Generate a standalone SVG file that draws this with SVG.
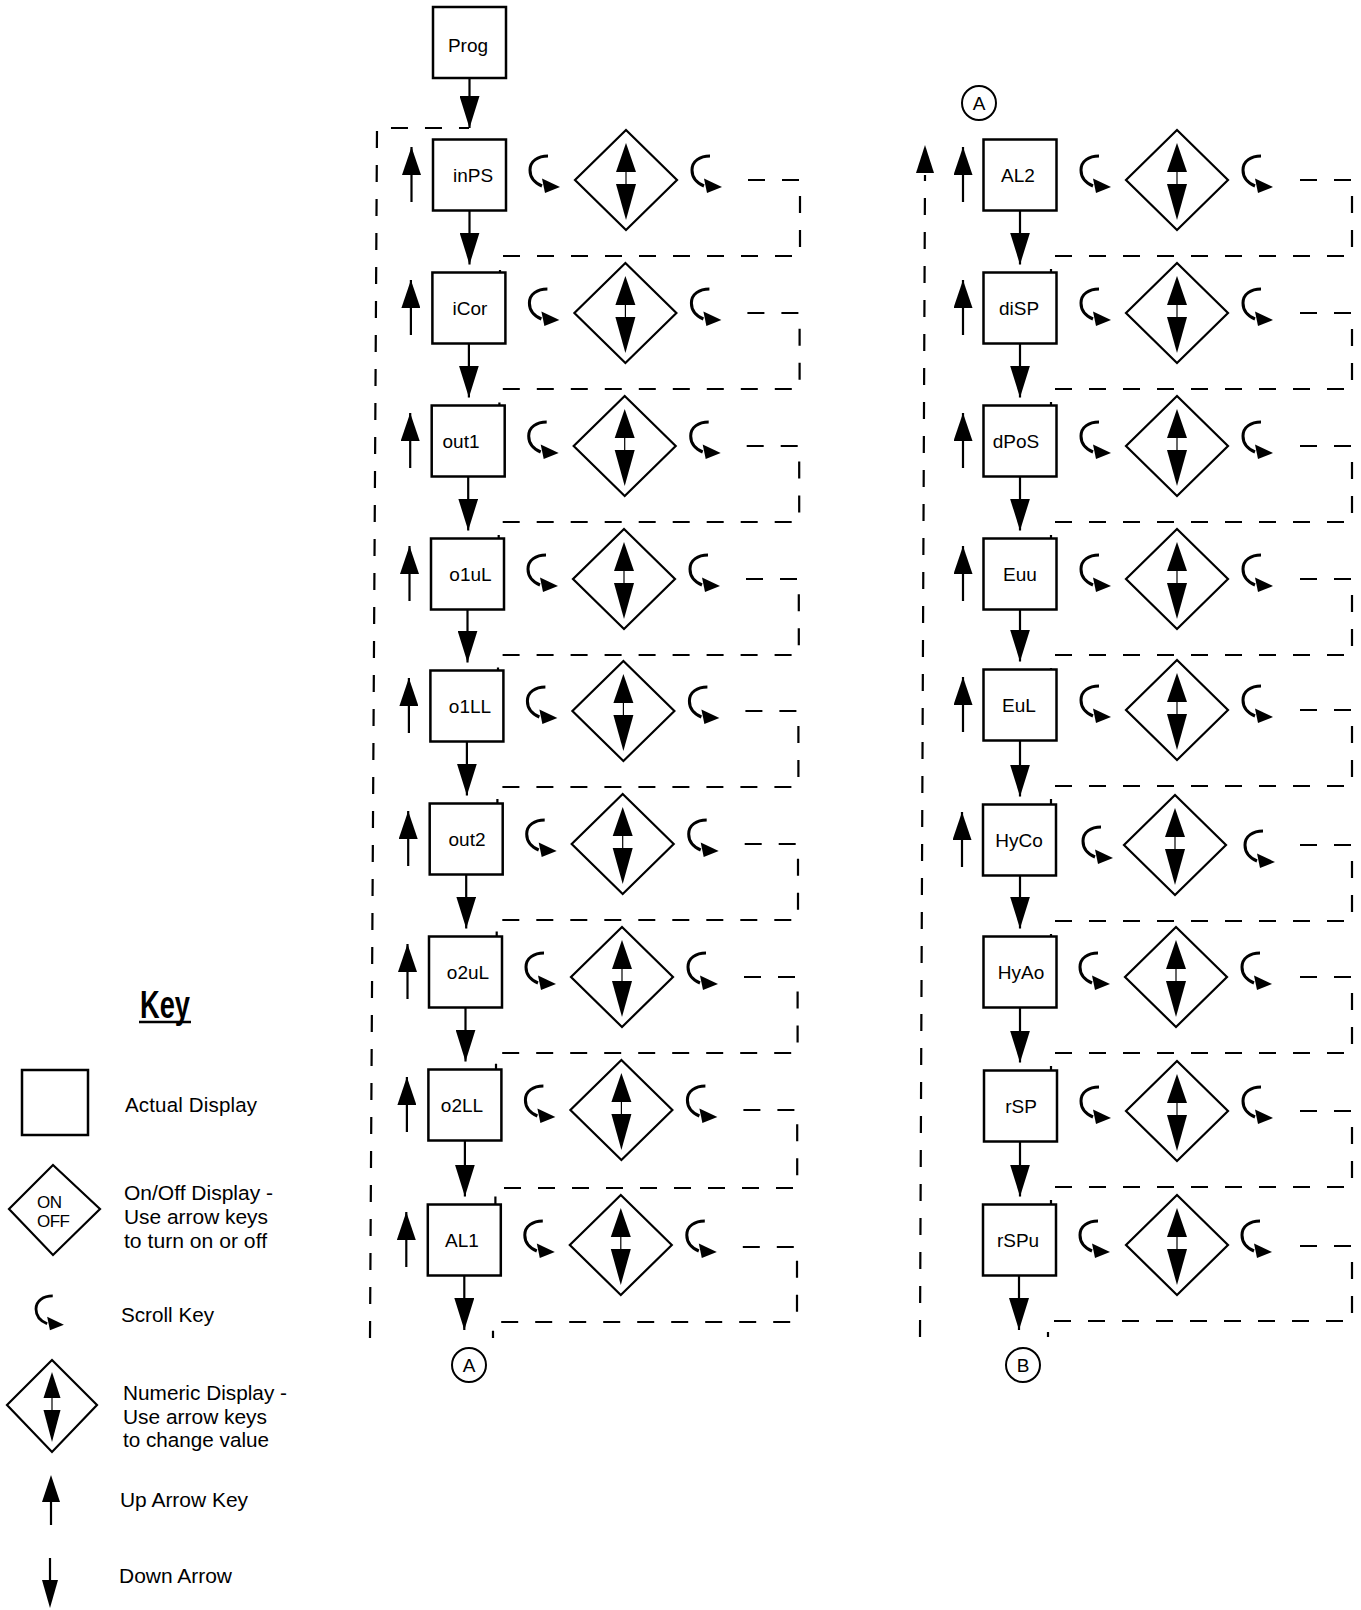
<svg xmlns="http://www.w3.org/2000/svg" xmlns:xlink="http://www.w3.org/1999/xlink" width="1361" height="1610" viewBox="0 0 1361 1610">
<style>
.box{fill:#fff;stroke:#000;stroke-width:2.5}
.lbl{font-family:"Liberation Sans",Arial,Helvetica,sans-serif;font-size:19px;text-anchor:middle;fill:#000}
.key{font-family:"Liberation Sans",Arial,Helvetica,sans-serif;font-size:20.5px;fill:#000}
.dash{fill:none;stroke:#000;stroke-width:2.2;stroke-dasharray:17 17}
.ln{fill:none;stroke:#000;stroke-width:2.2}
.up{fill:none;stroke:#000;stroke-width:2.2;marker-end:url(#hu)}
.dn{fill:none;stroke:#000;stroke-width:2.2;marker-end:url(#hd)}
.circ{fill:#fff;stroke:#000;stroke-width:2}
</style>
<defs>
<marker id="hu" viewBox="0 0 28 19" markerWidth="28" markerHeight="19" refX="28" refY="9.5" orient="auto" markerUnits="userSpaceOnUse"><path d="M0,0 L28,9.5 L0,19 Z" fill="#000"/></marker>
<marker id="hd" viewBox="0 0 32 20" markerWidth="32" markerHeight="20" refX="32" refY="10" orient="auto" markerUnits="userSpaceOnUse"><path d="M0,0 L32,10 L0,20 Z" fill="#000"/></marker>
<g id="scroll"><path d="M18,1 C8,1 0,6 0,15 C0,23 5,28 12,31" fill="none" stroke="#000" stroke-width="3"/><polygon points="12,23.5 15,38 30,32" fill="#000"/></g>
<g id="num"><polygon points="0,-50 51,0 0,50 -51,0" fill="#fff" stroke="#000" stroke-width="2.2"/><polygon points="0,-37 10,-8 -10,-8" fill="#000"/><polygon points="-10,4 10,4 0,40" fill="#000"/><line x1="0" y1="-8" x2="0" y2="4" stroke="#000" stroke-width="1.2"/></g>
</defs>
<rect width="1361" height="1610" fill="#fff"/>

<g id="connectors">
<line class="dn" x1="469.5" y1="78" x2="469.5" y2="128"/>
<path class="dash" d="M370,1338 L377,128 H469"/>
<line class="dn" x1="469.5" y1="210.5" x2="469.5" y2="264.5"/>
<line class="dn" x1="468.9" y1="343.5" x2="468.9" y2="397.5"/>
<line class="dn" x1="468.2" y1="476.5" x2="468.2" y2="530.5"/>
<line class="dn" x1="467.5" y1="609.5" x2="467.5" y2="662.5"/>
<line class="dn" x1="466.9" y1="741.5" x2="466.9" y2="795.5"/>
<line class="dn" x1="466.2" y1="874.5" x2="466.2" y2="928.5"/>
<line class="dn" x1="465.5" y1="1007.5" x2="465.5" y2="1061.5"/>
<line class="dn" x1="464.9" y1="1140.5" x2="464.9" y2="1196.5"/>
<line class="dn" x1="464.3" y1="1275.5" x2="464.3" y2="1330"/>
<path class="dash" d="M748,180 H800 V256 H500 V272.5"/>
<path class="dash" d="M747.4,313 H799.6 V389 H499.4 V405.5"/>
<path class="dash" d="M746.7,446 H799.2 V522 H498.7 V538.5"/>
<path class="dash" d="M746,579 H798.8 V655 H498 V670.5"/>
<path class="dash" d="M745.4,711 H798.4 V787 H497.4 V803.5"/>
<path class="dash" d="M744.7,844 H798 V920 H496.7 V936.5"/>
<path class="dash" d="M744,977 H797.6 V1053 H496 V1069.5"/>
<path class="dash" d="M743.4,1110 H797.2 V1188 H495.4 V1204.5"/>
<path class="dash" d="M742.8,1247 H797 V1322 H493 V1338"/>
<path class="dash" d="M920,1337 L925,175"/>
<polygon points="916,173 934,173 925,145" fill="#000"/>
<line class="dn" x1="1020" y1="210.5" x2="1020" y2="264.5"/>
<line class="dn" x1="1020" y1="343.5" x2="1020" y2="397.5"/>
<line class="dn" x1="1020" y1="476.5" x2="1020" y2="530.5"/>
<line class="dn" x1="1020" y1="609.5" x2="1020" y2="661.5"/>
<line class="dn" x1="1020" y1="740.5" x2="1020" y2="796.5"/>
<line class="dn" x1="1020" y1="875.5" x2="1020" y2="928.5"/>
<line class="dn" x1="1020" y1="1007.5" x2="1020" y2="1062.5"/>
<line class="dn" x1="1020" y1="1141.5" x2="1020" y2="1196.5"/>
<line class="dn" x1="1019" y1="1275.5" x2="1019" y2="1330"/>
<path class="dash" d="M1300,180 H1352 V256 H1051 V272.5"/>
<path class="dash" d="M1300,313 H1352 V389 H1051 V405.5"/>
<path class="dash" d="M1300,446 H1352 V522 H1051 V538.5"/>
<path class="dash" d="M1300,579 H1352 V655 H1051 V669.5"/>
<path class="dash" d="M1300,710 H1352 V786 H1051 V804.5"/>
<path class="dash" d="M1300,845 H1352 V921 H1051 V936.5"/>
<path class="dash" d="M1300,977 H1352 V1053 H1051 V1070.5"/>
<path class="dash" d="M1300,1111 H1352 V1187 H1051 V1204.5"/>
<path class="dash" d="M1300,1246 H1352 V1321 H1048 V1337"/>
</g>

<g id="node-Prog"><rect class="box" x="433" y="7" width="73" height="71"/><text class="lbl" x="468" y="52">Prog</text></g>

<g id="row-inPS"><rect class="box" x="433" y="139.5" width="73" height="71"/><text class="lbl" x="473" y="182">inPS</text><line class="up" x1="411.5" y1="202" x2="411.5" y2="147"/><use xlink:href="#scroll" x="530" y="155"/><use xlink:href="#num" x="626" y="180"/><use xlink:href="#scroll" x="692" y="155"/></g>
<g id="row-iCor"><rect class="box" x="432.4" y="272.5" width="73" height="71"/><text class="lbl" x="470" y="315">iCor</text><line class="up" x1="410.9" y1="335" x2="410.9" y2="280"/><use xlink:href="#scroll" x="529.4" y="288"/><use xlink:href="#num" x="625.4" y="313"/><use xlink:href="#scroll" x="691.4" y="288"/></g>
<g id="row-out1"><rect class="box" x="431.7" y="405.5" width="73" height="71"/><text class="lbl" x="461" y="448">out1</text><line class="up" x1="410.2" y1="468" x2="410.2" y2="413"/><use xlink:href="#scroll" x="528.7" y="421"/><use xlink:href="#num" x="624.7" y="446"/><use xlink:href="#scroll" x="690.7" y="421"/></g>
<g id="row-o1uL"><rect class="box" x="431" y="538.5" width="73" height="71"/><text class="lbl" x="470.5" y="581">o1uL</text><line class="up" x1="409.5" y1="601" x2="409.5" y2="546"/><use xlink:href="#scroll" x="528" y="554"/><use xlink:href="#num" x="624" y="579"/><use xlink:href="#scroll" x="690" y="554"/></g>
<g id="row-o1LL"><rect class="box" x="430.4" y="670.5" width="73" height="71"/><text class="lbl" x="470" y="713">o1LL</text><line class="up" x1="408.9" y1="733" x2="408.9" y2="678"/><use xlink:href="#scroll" x="527.4" y="686"/><use xlink:href="#num" x="623.4" y="711"/><use xlink:href="#scroll" x="689.4" y="686"/></g>
<g id="row-out2"><rect class="box" x="429.7" y="803.5" width="73" height="71"/><text class="lbl" x="467" y="846">out2</text><line class="up" x1="408.2" y1="866" x2="408.2" y2="811"/><use xlink:href="#scroll" x="526.7" y="819"/><use xlink:href="#num" x="622.7" y="844"/><use xlink:href="#scroll" x="688.7" y="819"/></g>
<g id="row-o2uL"><rect class="box" x="429" y="936.5" width="73" height="71"/><text class="lbl" x="468" y="979">o2uL</text><line class="up" x1="407.5" y1="999" x2="407.5" y2="944"/><use xlink:href="#scroll" x="526" y="952"/><use xlink:href="#num" x="622" y="977"/><use xlink:href="#scroll" x="688" y="952"/></g>
<g id="row-o2LL"><rect class="box" x="428.4" y="1069.5" width="73" height="71"/><text class="lbl" x="462" y="1112">o2LL</text><line class="up" x1="406.9" y1="1132" x2="406.9" y2="1077"/><use xlink:href="#scroll" x="525.4" y="1085"/><use xlink:href="#num" x="621.4" y="1110"/><use xlink:href="#scroll" x="687.4" y="1085"/></g>
<g id="row-AL1"><rect class="box" x="427.8" y="1204.5" width="73" height="71"/><text class="lbl" x="462" y="1247">AL1</text><line class="up" x1="406.3" y1="1267" x2="406.3" y2="1212"/><use xlink:href="#scroll" x="524.8" y="1220"/><use xlink:href="#num" x="620.8" y="1245"/><use xlink:href="#scroll" x="686.8" y="1220"/></g>

<g id="conn-A-bottom"><circle class="circ" cx="469" cy="1365" r="17"/><text class="lbl" x="469" y="1372">A</text></g>
<g id="conn-A-top"><circle class="circ" cx="979" cy="103" r="17"/><text class="lbl" x="979" y="110">A</text></g>
<g id="conn-B"><circle class="circ" cx="1023" cy="1365" r="17"/><text class="lbl" x="1023" y="1372">B</text></g>

<g id="row-AL2"><rect class="box" x="983.5" y="139.5" width="73" height="71"/><text class="lbl" x="1018" y="182">AL2</text><line class="up" x1="963" y1="202" x2="963" y2="147"/><use xlink:href="#scroll" x="1081" y="155"/><use xlink:href="#num" x="1177" y="180"/><use xlink:href="#scroll" x="1243" y="155"/></g>
<g id="row-diSP"><rect class="box" x="983.5" y="272.5" width="73" height="71"/><text class="lbl" x="1019" y="315">diSP</text><line class="up" x1="963" y1="335" x2="963" y2="280"/><use xlink:href="#scroll" x="1081" y="288"/><use xlink:href="#num" x="1177" y="313"/><use xlink:href="#scroll" x="1243" y="288"/></g>
<g id="row-dPoS"><rect class="box" x="983.5" y="405.5" width="73" height="71"/><text class="lbl" x="1016" y="448">dPoS</text><line class="up" x1="963" y1="468" x2="963" y2="413"/><use xlink:href="#scroll" x="1081" y="421"/><use xlink:href="#num" x="1177" y="446"/><use xlink:href="#scroll" x="1243" y="421"/></g>
<g id="row-Euu"><rect class="box" x="983.5" y="538.5" width="73" height="71"/><text class="lbl" x="1020" y="581">Euu</text><line class="up" x1="963" y1="601" x2="963" y2="546"/><use xlink:href="#scroll" x="1081" y="554"/><use xlink:href="#num" x="1177" y="579"/><use xlink:href="#scroll" x="1243" y="554"/></g>
<g id="row-EuL"><rect class="box" x="983.5" y="669.5" width="73" height="71"/><text class="lbl" x="1019" y="712">EuL</text><line class="up" x1="963" y1="732" x2="963" y2="677"/><use xlink:href="#scroll" x="1081" y="685"/><use xlink:href="#num" x="1177" y="710"/><use xlink:href="#scroll" x="1243" y="685"/></g>
<g id="row-HyCo"><rect class="box" x="983" y="804.5" width="73" height="71"/><text class="lbl" x="1019" y="847">HyCo</text><line class="up" x1="962" y1="867" x2="962" y2="812"/><use xlink:href="#scroll" x="1083" y="826"/><use xlink:href="#num" x="1175" y="845"/><use xlink:href="#scroll" x="1245" y="830"/></g>
<g id="row-HyAo"><rect class="box" x="983.5" y="936.5" width="73" height="71"/><text class="lbl" x="1021" y="979">HyAo</text><use xlink:href="#scroll" x="1080" y="952"/><use xlink:href="#num" x="1176" y="977"/><use xlink:href="#scroll" x="1242" y="952"/></g>
<g id="row-rSP"><rect class="box" x="984" y="1070.5" width="73" height="71"/><text class="lbl" x="1021" y="1113">rSP</text><use xlink:href="#scroll" x="1081" y="1086"/><use xlink:href="#num" x="1177" y="1111"/><use xlink:href="#scroll" x="1243" y="1086"/></g>
<g id="row-rSPu"><rect class="box" x="983" y="1204.5" width="73" height="71"/><text class="lbl" x="1018" y="1247">rSPu</text><use xlink:href="#scroll" x="1080" y="1220"/><use xlink:href="#num" x="1177" y="1245"/><use xlink:href="#scroll" x="1242" y="1220"/></g>

<g id="key">
<text x="140" y="1018" style="font-family:'Liberation Sans',Arial,sans-serif;font-size:38px;font-weight:bold" textLength="50" lengthAdjust="spacingAndGlyphs">Key</text>
<line x1="139" y1="1022" x2="191" y2="1022" stroke="#000" stroke-width="2.5"/>
<g id="key-display"><rect class="box" x="22" y="1070" width="66" height="65"/><text class="key" x="125" y="1112" textLength="132" lengthAdjust="spacing">Actual Display</text></g>
<g id="key-onoff"><polygon points="53,1165 100,1209 53,1255 9,1209" fill="#fff" stroke="#000" stroke-width="2.2"/>
<text x="37" y="1208" style="font-family:'Liberation Sans',Arial,sans-serif;font-size:17px" textLength="25" lengthAdjust="spacing">ON</text>
<text x="37" y="1227" style="font-family:'Liberation Sans',Arial,sans-serif;font-size:17px" textLength="33" lengthAdjust="spacing">OFF</text>
<text class="key" x="124" y="1200" textLength="149" lengthAdjust="spacingAndGlyphs">On/Off Display -</text>
<text class="key" x="124" y="1224" textLength="144" lengthAdjust="spacingAndGlyphs">Use arrow keys</text>
<text class="key" x="124" y="1248" textLength="143" lengthAdjust="spacingAndGlyphs">to turn on or off</text></g>
<g id="key-scroll"><use xlink:href="#scroll" transform="translate(36,1295) scale(0.93)"/><text class="key" x="121" y="1322" textLength="93" lengthAdjust="spacingAndGlyphs">Scroll Key</text></g>
<g id="key-numeric"><polygon points="52,1360 97,1405 52,1452 7,1405" fill="#fff" stroke="#000" stroke-width="2.2"/>
<polygon points="52,1372 60.5,1398 43.5,1398" fill="#000"/><polygon points="43.5,1410 60.5,1410 52,1442" fill="#000"/><line x1="52" y1="1398" x2="52" y2="1410" stroke="#000" stroke-width="1.2"/>
<text class="key" x="123" y="1400" textLength="164" lengthAdjust="spacingAndGlyphs">Numeric Display -</text>
<text class="key" x="123" y="1424" textLength="144" lengthAdjust="spacingAndGlyphs">Use arrow keys</text>
<text class="key" x="123" y="1447" textLength="146" lengthAdjust="spacingAndGlyphs">to change value</text></g>
<g id="key-up"><line class="ln" x1="51" y1="1525" x2="51" y2="1498"/><polygon points="42,1502 60,1502 51,1475" fill="#000"/><text class="key" x="120" y="1507" textLength="128" lengthAdjust="spacingAndGlyphs">Up Arrow Key</text></g>
<g id="key-down"><line class="ln" x1="50" y1="1558" x2="50" y2="1585"/><polygon points="42,1580 58,1580 50,1608" fill="#000"/><text class="key" x="119" y="1583" textLength="113" lengthAdjust="spacingAndGlyphs">Down Arrow</text></g>
</g>
</svg>
